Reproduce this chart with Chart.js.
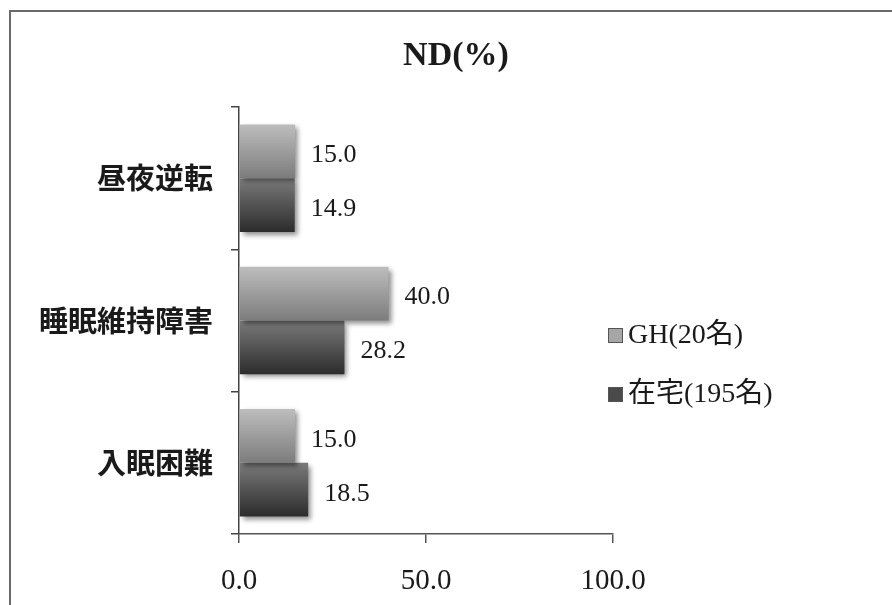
<!DOCTYPE html>
<html>
<head>
<meta charset="utf-8">
<script src="https://cdn.jsdelivr.net/npm/chart.js@4/dist/chart.umd.min.js"></script>
<style>
  html, body { margin: 0; padding: 0; background: #fff; }
  #wrap { width: 892px; height: 605px; }
</style>
</head>
<body>
<div id="wrap"><canvas id="c" width="892" height="605"></canvas></div>
<script>
const chartTitle = 'ND(%)';
const categories = ['昼夜逆転', '睡眠維持障害', '入眠困難'];
const seriesNames = ['GH(20名)', '在宅(195名)'];
const ghValues = [15.0, 40.0, 15.0];
const homeValues = [14.9, 28.2, 18.5];
const xTicks = [0, 50, 100];

const gradStops = [
  ['#bdbdbd', '#7c7c7c'],
  ['#7a7a7a', '#2c2c2c']
];
const legendSwatch = ['#a6a6a6', '#4a4a4a'];
const catPct = 0.755;

const serifFont = "'Liberation Serif', 'Noto Sans CJK JP', serif";

function barGradient(context) {
  const chart = context.chart;
  const ys = chart.scales && chart.scales.y;
  const fallback = gradStops[context.datasetIndex][1];
  if (!ys || context.type !== 'data') return fallback;
  const c = ys.getPixelForValue(context.dataIndex);
  const w = Math.abs(ys.getPixelForValue(1) - ys.getPixelForValue(0));
  if (!isFinite(c) || !isFinite(w) || w <= 0) return fallback;
  const t = w * catPct / 2;
  const top = context.datasetIndex === 0 ? c - t : c;
  const g = chart.ctx.createLinearGradient(0, top, 0, top + t);
  const s = gradStops[context.datasetIndex];
  g.addColorStop(0, s[0]);
  g.addColorStop(1, s[1]);
  return g;
}

const framePlugin = {
  id: 'frame',
  beforeDraw(chart) {
    const ctx = chart.ctx;
    ctx.save();
    ctx.fillStyle = '#fff';
    ctx.fillRect(0, 0, chart.width, chart.height);
    ctx.strokeStyle = '#6a6a6a';
    ctx.lineWidth = 2;
    ctx.strokeRect(10, 11, 1000, 1000);
    ctx.restore();
  }
};

const shadowPlugin = {
  id: 'barShadow',
  beforeDatasetDraw(chart) {
    const ctx = chart.ctx;
    ctx.save();
    ctx.shadowColor = 'rgba(0,0,0,0.45)';
    ctx.shadowBlur = 5;
    ctx.shadowOffsetX = 3;
    ctx.shadowOffsetY = 3;
  },
  afterDatasetDraw(chart) {
    chart.ctx.restore();
  }
};

const labelPlugin = {
  id: 'valueLabels',
  afterDatasetsDraw(chart) {
    const ctx = chart.ctx;
    ctx.save();
    ctx.font = '26px ' + serifFont;
    ctx.fillStyle = '#1a1a1a';
    ctx.textAlign = 'left';
    ctx.textBaseline = 'middle';
    chart.data.datasets.forEach((ds, i) => {
      const meta = chart.getDatasetMeta(i);
      meta.data.forEach((el, j) => {
        ctx.fillText(ds.data[j].toFixed(1), el.x + 16, el.y + 4);
      });
    });
    ctx.restore();
  }
};

const titleLegendPlugin = {
  id: 'titleLegend',
  afterDraw(chart) {
    const ctx = chart.ctx;
    ctx.save();
    ctx.font = 'bold 34px ' + serifFont;
    ctx.fillStyle = '#1a1a1a';
    ctx.textAlign = 'center';
    ctx.textBaseline = 'middle';
    ctx.fillText(chartTitle, 456, 56);

    ctx.font = '28px ' + serifFont;
    ctx.textAlign = 'left';
    chart.data.datasets.forEach((ds, i) => {
      const y = 336 + i * 59;
      ctx.fillStyle = legendSwatch[i];
      ctx.fillRect(608, y - 8, 15, 15);
      ctx.strokeStyle = '#555';
      ctx.lineWidth = 1;
      ctx.strokeRect(608.5, y - 7.5, 14, 14);
      ctx.fillStyle = '#1a1a1a';
      ctx.fillText(ds.label, 628, y);
    });
    ctx.restore();
  }
};

new Chart(document.getElementById('c'), {
  type: 'bar',
  data: {
    labels: categories,
    datasets: [
      { label: seriesNames[0], data: ghValues, backgroundColor: barGradient, borderWidth: 0,
        categoryPercentage: catPct, barPercentage: 1.0 },
      { label: seriesNames[1], data: homeValues, backgroundColor: barGradient, borderWidth: 0,
        categoryPercentage: catPct, barPercentage: 1.0 }
    ]
  },
  options: {
    indexAxis: 'y',
    responsive: false,
    animation: false,
    devicePixelRatio: 1,
    layout: { padding: { left: 0, right: 279, top: 107, bottom: 0 } },
    plugins: {
      legend: { display: false },
      title: { display: false },
      tooltip: { enabled: false }
    },
    scales: {
      x: {
        min: 0, max: 100,
        afterBuildTicks(scale) { scale.ticks = xTicks.map(v => ({ value: v })); },
        afterFit(scale) { scale.height = 71; },
        grid: { drawOnChartArea: false, drawTicks: true, tickLength: 9, color: '#555', lineWidth: 1.5 },
        border: { display: true, color: '#555', width: 1.5 },
        ticks: {
          padding: 21,
          color: '#1a1a1a',
          font: { family: serifFont, size: 29 },
          callback: v => Number(v).toFixed(1)
        }
      },
      y: {
        afterFit(scale) { scale.width = 239; },
        grid: { drawOnChartArea: false, drawTicks: true, tickLength: 8, offset: true, color: '#444', lineWidth: 1.5 },
        border: { display: true, color: '#444', width: 1.5 },
        ticks: {
          padding: 18,
          color: '#1a1a1a',
          font: { family: "'Noto Sans CJK JP', sans-serif", size: 29, weight: 'bold' }
        }
      }
    }
  },
  plugins: [framePlugin, shadowPlugin, labelPlugin, titleLegendPlugin]
});
</script>
</body>
</html>
